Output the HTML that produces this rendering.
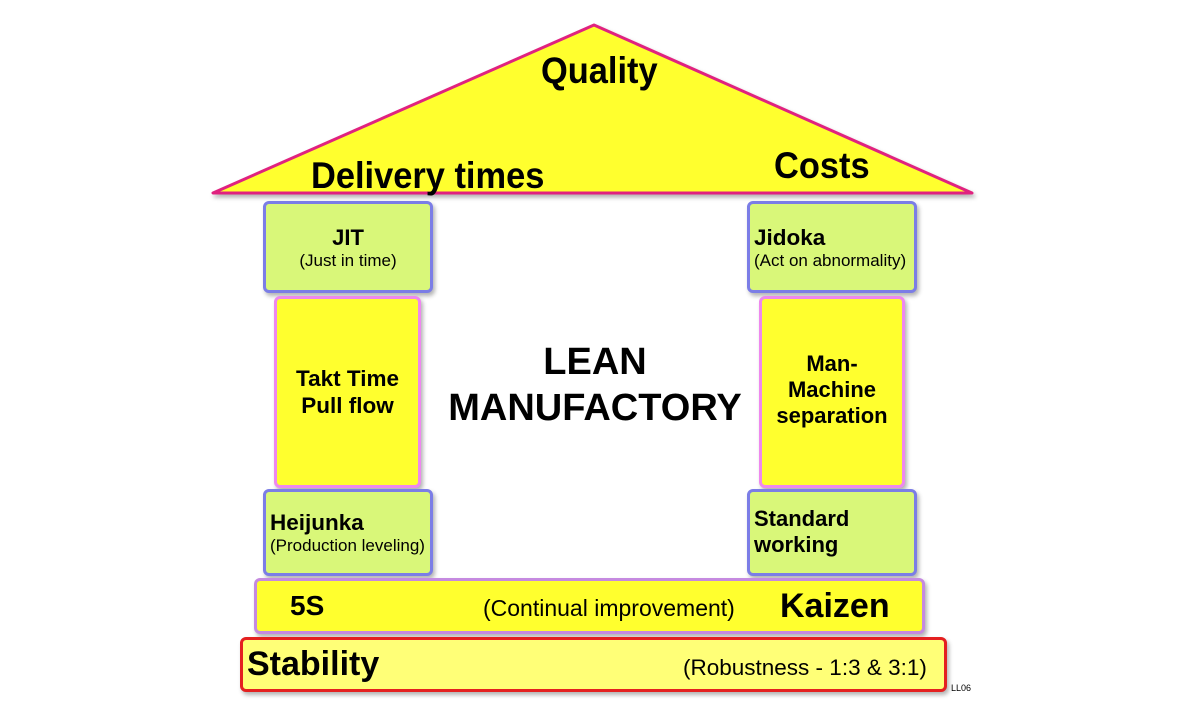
<!DOCTYPE html>
<html><head><meta charset="utf-8"><style>
body{margin:0;width:1200px;height:705px;background:#fff;position:relative;overflow:hidden;font-family:"Liberation Sans",sans-serif;}
.b{position:absolute;box-sizing:border-box;border-radius:6px;box-shadow:2px 3px 4px rgba(0,0,0,0.3);}
.g{background:#d9f779;border:3px solid #7b7de6;}
.y{background:#ffff2e;border:3px solid #ee88ee;}
.t{position:absolute;white-space:nowrap;color:#000;}
.bd{font-weight:bold;}
.n{font-weight:bold;transform:scaleX(0.93);transform-origin:left top;}
</style></head><body>
<svg width="1200" height="705" style="position:absolute;left:0;top:0">
<defs><filter id="s"><feDropShadow dx="2" dy="3" stdDeviation="2" flood-opacity="0.3"/></filter></defs>
<polygon points="594,25 213,193 972,193" fill="#ffff2e" stroke="#e0217f" stroke-width="3" stroke-linejoin="round" filter="url(#s)"/>
</svg>
<div class="t n" style="left:541px;top:50px;font-size:37px;">Quality</div>
<div class="t n" style="left:311px;top:155px;font-size:37px;">Delivery times</div>
<div class="t n" style="left:774px;top:145px;font-size:37px;">Costs</div>

<div class="b g" style="left:263px;top:201px;width:170px;height:92px;"></div>
<div class="t bd" style="left:263px;top:225px;width:170px;text-align:center;font-size:22px;">JIT</div>
<div class="t" style="left:263px;top:251px;width:170px;text-align:center;font-size:17px;">(Just in time)</div>

<div class="b y" style="left:274px;top:296px;width:147px;height:192px;"></div>
<div class="t bd" style="left:274px;top:365px;width:147px;text-align:center;font-size:22.5px;line-height:27px;">Takt Time<br>Pull flow</div>

<div class="b g" style="left:263px;top:489px;width:170px;height:87px;"></div>
<div class="t bd" style="left:270px;top:510px;font-size:22.5px;">Heijunka</div>
<div class="t" style="left:270px;top:536px;font-size:17px;">(Production leveling)</div>

<div class="b g" style="left:747px;top:201px;width:170px;height:92px;"></div>
<div class="t bd" style="left:754px;top:225px;font-size:22.5px;">Jidoka</div>
<div class="t" style="left:754px;top:251px;font-size:17px;">(Act on abnormality)</div>

<div class="b y" style="left:759px;top:296px;width:146px;height:192px;"></div>
<div class="t bd" style="left:759px;top:351px;width:146px;text-align:center;font-size:22px;line-height:26px;">Man-<br>Machine<br>separation</div>

<div class="b g" style="left:747px;top:489px;width:170px;height:87px;"></div>
<div class="t bd" style="left:754px;top:506px;font-size:22px;line-height:26px;">Standard<br>working</div>

<div class="t bd" style="left:440px;top:339px;width:310px;text-align:center;font-size:38px;line-height:46px;">LEAN<br>MANUFACTORY</div>

<div class="b" style="left:254px;top:578px;width:671px;height:56px;background:#ffff2e;border:3px solid #c58ae0;"></div>
<div class="t bd" style="left:290px;top:590px;font-size:28px;">5S</div>
<div class="t" style="left:483px;top:595px;font-size:23px;">(Continual improvement)</div>
<div class="t bd" style="left:780px;top:587px;font-size:34px;">Kaizen</div>

<div class="b" style="left:240px;top:637px;width:707px;height:55px;background:#ffff77;border:3px solid #e42020;"></div>
<div class="t bd" style="left:247px;top:645px;font-size:34px;">Stability</div>
<div class="t" style="left:683px;top:655px;font-size:22.5px;">(Robustness - 1:3 &amp; 3:1)</div>
<div class="t" style="left:951px;top:683px;font-size:9px;">LL06</div>
</body></html>
